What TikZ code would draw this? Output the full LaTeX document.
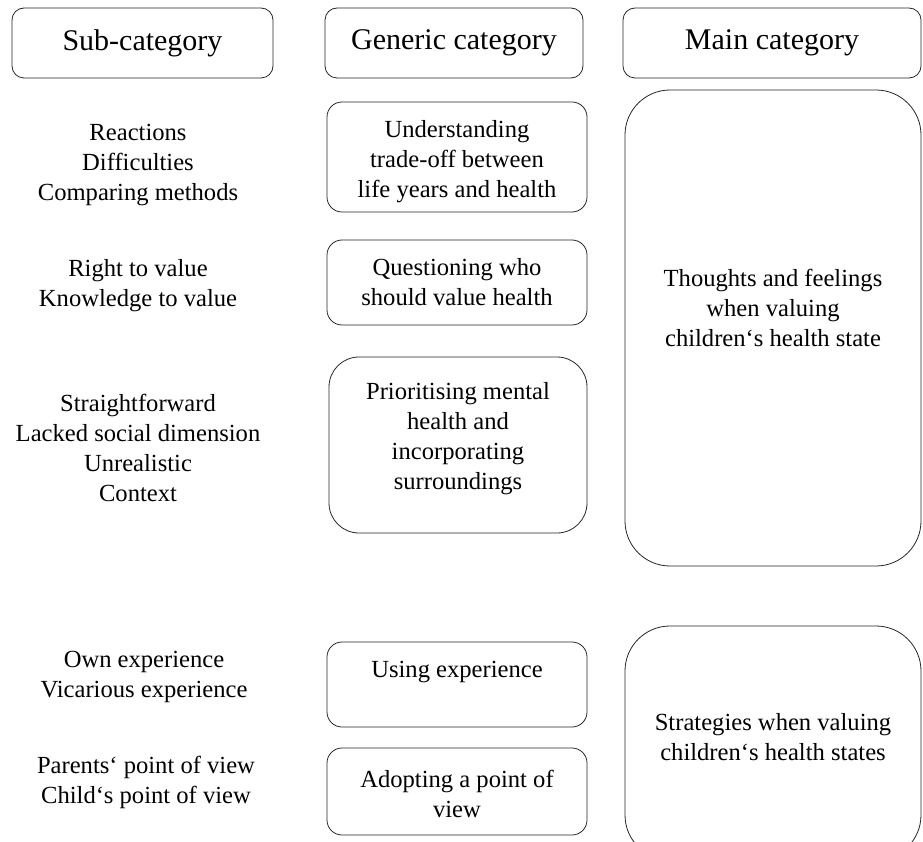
\documentclass[tikz,border=0pt]{standalone}
\usepackage{fontspec}
\setmainfont{Liberation Serif}

\tikzset{
  catbox/.style={draw=black!85, line width=0.8pt, rounded corners=#1, inner sep=0pt},
  catbox/.default=12pt,
  headtxt/.style={font=\fontsize{30}{36}\selectfont},
  celltxt/.style={align=center, inner sep=0pt, font=\fontsize{24.6}{30}\selectfont},
}

\begin{document}
\begin{tikzpicture}[x=1pt,y=-1pt]
\useasboundingbox (0,0) rectangle (923,842);
\clip (0,0) rectangle (923,842);

% headings
\node[catbox, minimum width=261pt, minimum height=70pt, headtxt] (subhead) at (142.5,43) {Sub-category};
\node[catbox, minimum width=258pt, minimum height=70pt, headtxt] (genhead) at (454,43) {Generic category};
\node[catbox, minimum width=298pt, minimum height=70pt, headtxt] (mainhead) at (772,43) {Main category};

% sub-categories
\node[celltxt] (sub1) at (138,165) {Reactions\\Difficulties\\Comparing methods};
\node[celltxt] (sub2) at (138,286) {Right to value\\Knowledge to value};
\node[celltxt] (sub3) at (138,448) {Straightforward\\Lacked social dimension\\Unrealistic\\Context};
\node[celltxt] (sub4) at (144,677) {Own experience\\Vicarious experience};
\node[celltxt] (sub5) at (146,782) {Parents` point of view\\Child`s point of view};

% generic categories
\node[catbox=15pt, minimum width=260pt, minimum height=110pt] (gen1) at (457,157) {};
\node[celltxt] (gen1txt) at ([yshift=-5pt]gen1.center) {Understanding\\trade-off between\\life years and health};
\node[catbox=15pt, minimum width=260pt, minimum height=85pt] (gen2) at (457,282.5) {};
\node[celltxt] (gen2txt) at (gen2.center) {Questioning who\\should value health};
\node[catbox=30pt, minimum width=258pt, minimum height=176pt] (gen3) at (458,445) {};
\node[celltxt] (gen3txt) at ([yshift=6pt]gen3.center) {Prioritising mental\\health and\\incorporating\\surroundings};
\node[catbox=15pt, minimum width=260pt, minimum height=85pt] (gen4) at (457,684.5) {};
\node[celltxt] (gen4txt) at ([yshift=12pt]gen4.center) {Using experience};
\node[catbox=15pt, minimum width=260pt, minimum height=87pt] (gen5) at (457,791.5) {};
\node[celltxt] (gen5txt) at ([yshift=-2pt]gen5.center) {Adopting a point of\\view};

% main categories
\node[catbox=45pt, minimum width=296pt, minimum height=476pt] (main1) at (773,328) {};
\node[celltxt] (main1txt) at ([yshift=20pt]main1.center) {Thoughts and feelings\\when valuing\\children`s health state};
\node[catbox=45pt, minimum width=296pt, minimum height=234pt] (main2) at (773,743) {};
\node[celltxt] (main2txt) at ([yshift=6pt]main2.center) {Strategies when valuing\\children`s health states};

\end{tikzpicture}
\end{document}
